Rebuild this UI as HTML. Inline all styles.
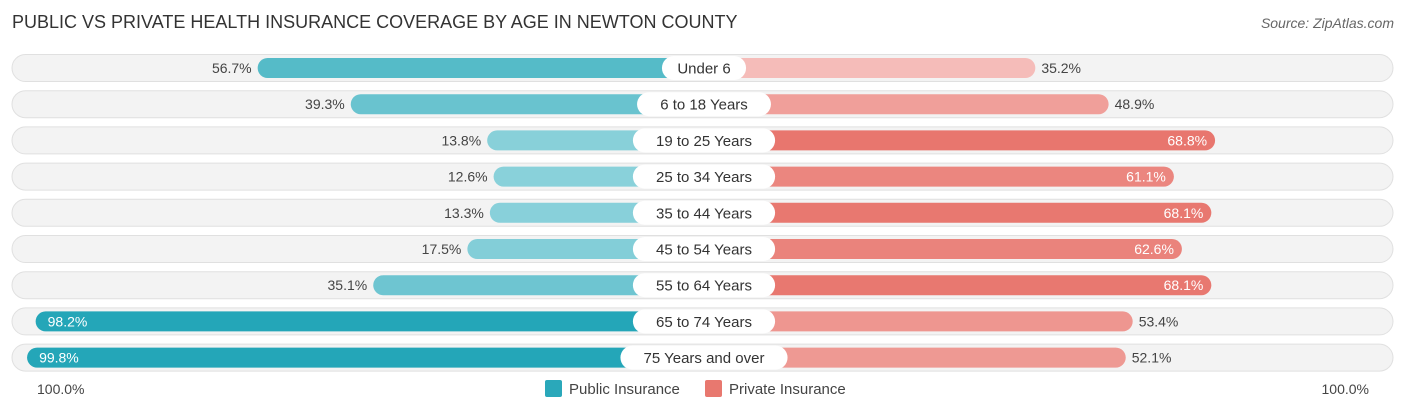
<!DOCTYPE html>
<html><head><meta charset="utf-8"><style>
body{margin:0;background:#fff;font-family:"Liberation Sans",sans-serif;}
svg text{font-family:"Liberation Sans",sans-serif;}
</style></head><body>
<svg id="c" width="1406" height="414">
<text x="12" y="28" font-size="18" fill="#333">PUBLIC VS PRIVATE HEALTH INSURANCE COVERAGE BY AGE IN NEWTON COUNTY</text>
<text x="1394" y="28" font-size="14" fill="#666" font-style="italic" text-anchor="end">Source: ZipAtlas.com</text>
<g id="rows"></g>
<text x="37" y="394" font-size="14" fill="#444">100.0%</text>
<text x="1369" y="394" font-size="14" fill="#444" text-anchor="end">100.0%</text>
<rect x="545" y="380" width="17" height="17" rx="2" fill="#2aa8ba"/>
<text x="569" y="394" font-size="15" fill="#444">Public Insurance</text>
<rect x="705" y="380" width="17" height="17" rx="2" fill="#e8786f"/>
<text x="729" y="394" font-size="15" fill="#444">Private Insurance</text>
</svg>
<script>
const categories=["Under 6","6 to 18 Years","19 to 25 Years","25 to 34 Years","35 to 44 Years","45 to 54 Years","55 to 64 Years","65 to 74 Years","75 Years and over"];
const publicValues=[56.7,39.3,13.8,12.6,13.3,17.5,35.1,98.2,99.8];
const privateValues=[35.2,48.9,68.8,61.1,68.1,62.6,68.1,53.4,52.1];
const NS="http://www.w3.org/2000/svg";
const g=document.getElementById('rows');
const cx=704, off=143, k=5.35, y0=68, dy=36.2;
function w(v){return off+v*k;}
function mix(a,b,t){return 'rgb('+a.map((x,i)=>Math.round(x+(b[i]-x)*t)).join(',')+')';}
function pubCol(v){return mix([140,210,219],[36,166,184],Math.max(0,Math.min(1,(v-10)/88)));}
function priCol(v){return mix([245,188,185],[232,118,110],Math.max(0,Math.min(1,(v-35)/34)));}
function el(t,a){const e=document.createElementNS(NS,t);for(const x in a)e.setAttribute(x,a[x]);g.appendChild(e);return e;}
categories.forEach((c,i)=>{
  const y=y0+i*dy;
  const tr=el('rect',{x:12,y:y-13.5,width:1381,height:27,rx:13.5,fill:'#f3f3f3',stroke:'#e0e0e0'});
  
  
  const pv=publicValues[i], rv=privateValues[i];
  const pb=el('rect',{x:cx-w(pv),y:y-10,width:w(pv),height:20,rx:10,fill:pubCol(pv)});
  
  
  const rb=el('rect',{x:cx,y:y-10,width:w(rv),height:20,rx:10,fill:priCol(rv)});
  
  
  const pin=pv>90;
  const pt=el('text',{x:pin?cx-w(pv)+12:cx-w(pv)-6,y:y+5,'font-size':14,fill:pin?'#fff':'#444','text-anchor':pin?'start':'end'});
  pt.textContent=pv.toFixed(1)+'%';
  
  
  const rin=rv>58;
  const rt=el('text',{x:rin?cx+w(rv)-8:cx+w(rv)+6,y:y+5,'font-size':14,fill:rin?'#fff':'#444','text-anchor':rin?'end':'start'});
  rt.textContent=rv.toFixed(1)+'%';
  
  
  const lw=c.length*8.3+26;
  const lb=el('rect',{x:cx-lw/2,y:y-12,width:lw,height:24,rx:12,fill:'#fff'});
  
  
  const lt=el('text',{x:cx,y:y+5.5,'font-size':15,fill:'#333','text-anchor':'middle'});
  lt.textContent=c;
  
  
});
</script>
</body></html>
